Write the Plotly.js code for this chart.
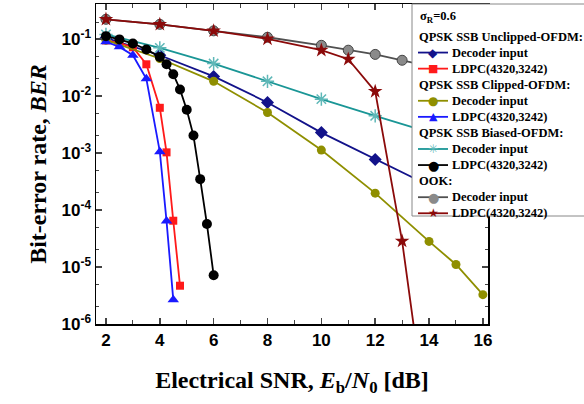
<!DOCTYPE html>
<html><head><meta charset="utf-8">
<script src="https://cdn.plot.ly/plotly-3.0.1.min.js"></script>
<style>body{margin:0;padding:0;background:#fff}#chart{width:584px;height:404px}</style>
</head><body><div id="chart"></div>
<script>
// Unclipped-OFDM
const unclipDecX = [2, 4, 6, 8, 10, 12, 14, 16];
const unclipDecY = [0.105, 0.0522, 0.0222, 0.00775, 0.00229, 0.000775, 0.00027, 0.0001];
const unclipLdpcX = [2, 2.5, 3, 3.5, 4, 4.25, 4.5, 4.75];
const unclipLdpcY = [0.095, 0.085, 0.072, 0.0362, 0.00624, 0.00103, 0.000065, 0.0000047];
// Clipped-OFDM
const clipDecX = [2, 4, 6, 8, 10, 12, 14, 15, 16];
const clipDecY = [0.096, 0.0457, 0.0182, 0.00516, 0.00113, 0.000198, 0.0000282, 0.0000111, 0.00000327];
const clipLdpcX = [2, 2.5, 3, 3.5, 4, 4.25, 4.5];
const clipLdpcY = [0.09, 0.0732, 0.0522, 0.0202, 0.00106, 0.000064, 0.00000267];
// Biased-OFDM
const biasDecX = [2, 4, 6, 8, 10, 12, 14, 16];
const biasDecY = [0.121, 0.0703, 0.0373, 0.0182, 0.00885, 0.00451, 0.0023, 0.0012];
const biasLdpcX = [2, 2.5, 3, 3.5, 4, 4.25, 4.5, 4.75, 5, 5.25, 5.5, 5.75, 6];
const biasLdpcY = [0.113, 0.099, 0.0838, 0.066, 0.0488, 0.0362, 0.0242, 0.0131, 0.00575, 0.00203, 0.000349, 0.0000569, 0.00000716];
// OOK
const ookDecX = [2, 4, 6, 8, 10, 11, 12, 13, 14, 15, 16];
const ookDecY = [0.223, 0.182, 0.14, 0.108, 0.078, 0.064, 0.054, 0.0426, 0.034, 0.027, 0.021];
const ookLdpcX = [2, 4, 6, 8, 10, 11, 12, 13, 14];
const ookLdpcY = [0.223, 0.182, 0.14, 0.101, 0.064, 0.0444, 0.0121, 0.0000285, 0.00000001];

const legendTitle = "σ<sub>R</sub>=0.6";
const groupTitles = ["QPSK SSB Unclipped-OFDM:", "QPSK SSB Clipped-OFDM:", "QPSK SSB Biased-OFDM:", "OOK:"];
const seriesNames = ["Decoder input", "LDPC(4320,3242)"];

// styles per series (order: unclipDec, unclipLdpc, clipDec, clipLdpc, biasDec, biasLdpc, ookDec, ookLdpc)
const styles = [
  {color: "#12128a", symbol: "diamond", size: 10, glyph: "◆", gsize: 12},
  {color: "#ff1a1a", symbol: "square", size: 8, glyph: "■", gsize: 11},
  {color: "#8f8f00", symbol: "circle", size: 9, glyph: "●", gsize: 12},
  {color: "#1a1aff", symbol: "triangle-up", size: 10, glyph: "▲", gsize: 11},
  {color: "#1a9696", symbol: "asterisk-open", size: 11, mcolor: "#5fb8b8", mline: {width: 1.5, color: "#5fb8b8"}, glyph: "✳", gsize: 12, gcolor: "#5fb8b8"},
  {color: "#000000", symbol: "circle", size: 10, glyph: "●", gsize: 13},
  {color: "#505050", symbol: "circle", size: 10, mcolor: "#8a8a8a", mline: {width: 1, color: "#444"}, glyph: "●", gsize: 13, gcolor: "#8a8a8a"},
  {color: "#8b0a0a", symbol: "star", size: 11, glyph: "★", gsize: 12}
];

const xs = [unclipDecX, unclipLdpcX, clipDecX, clipLdpcX, biasDecX, biasLdpcX, ookDecX, ookLdpcX];
const ys = [unclipDecY, unclipLdpcY, clipDecY, clipLdpcY, biasDecY, biasLdpcY, ookDecY, ookLdpcY];

const data = xs.map((x, i) => ({
  x: x, y: ys[i], type: "scatter", mode: "lines+markers",
  name: seriesNames[i % 2], showlegend: false,
  line: {color: styles[i].color, width: 1.8},
  marker: {symbol: styles[i].symbol, size: styles[i].size, color: styles[i].mcolor || styles[i].color, line: styles[i].mline || {width: 0}}
}));

// ---- manual legend (layout only) ----
const W = 584, H = 404, ML = 96, MR = 96, MT = 4, MB = 80;
const PW = W - ML - MR, PH = H - MT - MB;
const px2x = p => (p - ML) / PW;
const py2y = p => (H - MB - p) / PH;
const legFont = {family: "Liberation Serif, Times New Roman, serif", size: 12.5, color: "#000", weight: "bold"};

const shapes = [{
  type: "rect", xref: "paper", yref: "paper",
  x0: px2x(412), x1: px2x(620), y0: py2y(216), y1: py2y(4),
  fillcolor: "#fff", line: {color: "#888", width: 1}, layer: "above"
}];
const annotations = [{
  xref: "paper", yref: "paper", x: px2x(418), y: py2y(17), xanchor: "left", yanchor: "middle",
  text: legendTitle, showarrow: false, font: legFont
}];
const rowY0 = 36.5, rowStep = 16.07;
let row = 0, si = 0;
groupTitles.forEach((gt, g) => {
  annotations.push({
    xref: "paper", yref: "paper", x: px2x(417), y: py2y(rowY0 + row * rowStep), xanchor: "left", yanchor: "middle",
    text: gt, showarrow: false, font: legFont
  });
  row++;
  for (let k = 0; k < 2; k++) {
    const st = styles[si];
    const yy = rowY0 + row * rowStep;
    shapes.push({type: "line", xref: "paper", yref: "paper", x0: px2x(418), x1: px2x(448), y0: py2y(yy), y1: py2y(yy), line: {color: st.color, width: 1.8}, layer: "above"});
    annotations.push({
      xref: "paper", yref: "paper", x: px2x(433), y: py2y(yy), xanchor: "center", yanchor: "middle",
      text: st.glyph, showarrow: false, font: {family: "DejaVu Sans", size: st.gsize, color: st.gcolor || st.color}
    });
    annotations.push({
      xref: "paper", yref: "paper", x: px2x(450), y: py2y(yy), xanchor: "left", yanchor: "middle",
      text: seriesNames[k], showarrow: false, font: legFont
    });
    row++; si++;
  }
});

const tickFont = {family: "Liberation Sans, Arial, sans-serif", size: 17, color: "#000", weight: "bold"};
const titleFont = {family: "Liberation Serif, Times New Roman, serif", size: 24, color: "#000", weight: "bold"};

const layout = {
  width: W, height: H,
  margin: {l: ML, r: MR, t: MT, b: MB, autoexpand: false},
  paper_bgcolor: "#fff", plot_bgcolor: "#fff",
  showlegend: false,
  shapes: shapes,
  annotations: annotations,
  xaxis: {
    range: [1.63, 16.19], tickvals: [2, 4, 6, 8, 10, 12, 14, 16],
    ticks: "inside", ticklen: 6, tickwidth: 1.5, mirror: "allticks",
    showline: true, linecolor: "#000", linewidth: 1.5, showgrid: false, zeroline: false,
    minor: {dtick: 1, tick0: 1, ticks: "inside", ticklen: 4, tickwidth: 1},
    tickfont: tickFont,
    title: {text: "Electrical SNR, <i>E</i><sub>b</sub>/<i>N</i><sub>0</sub> [dB]", font: titleFont, standoff: 22}
  },
  yaxis: {
    type: "log", range: [-6, -0.383],
    tickvals: [1e-6, 1e-5, 1e-4, 1e-3, 1e-2, 1e-1],
    ticktext: ["10<sup>-6</sup>", "10<sup>-5</sup>", "10<sup>-4</sup>", "10<sup>-3</sup>", "10<sup>-2</sup>", "10<sup>-1</sup>"],
    ticks: "inside", ticklen: 6, tickwidth: 1.5, mirror: "allticks",
    showline: true, linecolor: "#000", linewidth: 1.5, showgrid: false, zeroline: false,
    minor: {ticks: "inside", ticklen: 3, tickwidth: 1, dtick: "D2"},
    tickfont: tickFont,
    title: {text: "Bit-error rate, <i>BER</i>", font: titleFont, standoff: 8}
  }
};

Plotly.newPlot("chart", data, layout, {displayModeBar: false, staticPlot: true});
</script>
</body></html>
